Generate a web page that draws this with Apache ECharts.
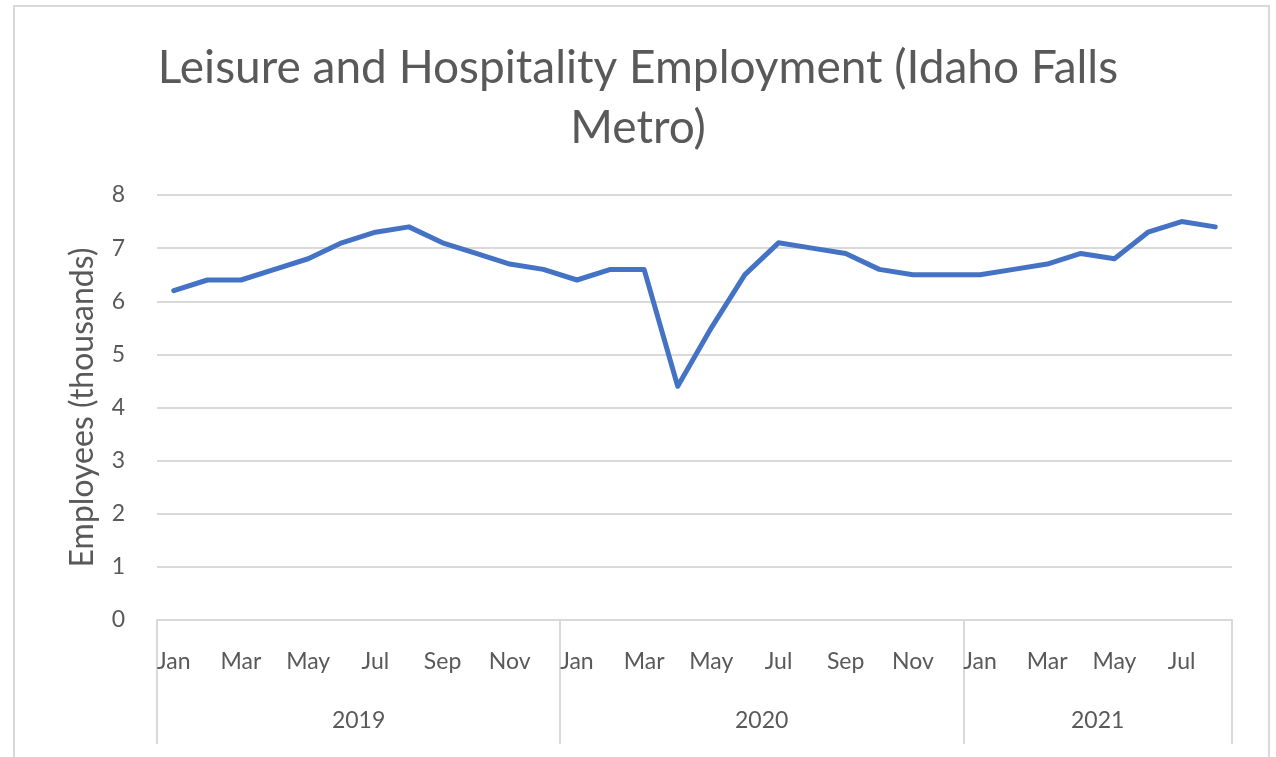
<!DOCTYPE html>
<html>
<head>
<meta charset="utf-8">
<title>Leisure and Hospitality Employment</title>
<script src="https://cdn.jsdelivr.net/npm/echarts@6/dist/echarts.min.js"></script>
<style>
  html, body { margin: 0; padding: 0; background: #fff; }
  #main { width: 1276px; height: 757px; }
</style>
</head>
<body>
<div id="main"></div>
<script>
  // 数据：2019年1月 ~ 2021年8月，单位：千人
  var years = ['2019', '2020', '2021']
  var monthsPerYear = [12, 12, 8]
  var monthNames = ['Jan', 'Feb', 'Mar', 'Apr', 'May', 'Jun', 'Jul', 'Aug', 'Sep', 'Oct', 'Nov', 'Dec']
  var employees2019 = [6.2, 6.4, 6.4, 6.6, 6.8, 7.1, 7.3, 7.4, 7.1, 6.9, 6.7, 6.6]
  var employees2020 = [6.4, 6.6, 6.6, 4.4, 5.5, 6.5, 7.1, 7.0, 6.9, 6.6, 6.5, 6.5]
  var employees2021 = [6.5, 6.6, 6.7, 6.9, 6.8, 7.3, 7.5, 7.4]
  var yTicks = [0, 1, 2, 3, 4, 5, 6, 7, 8]

  var categories = []
  var values = employees2019.concat(employees2020, employees2021)
  var boundaries = [0]      // 年份分隔线位置
  var yearCenters = []      // 年份标签位置
  var pos = 0
  for (var i = 0; i < years.length; i++) {
    for (var m = 0; m < monthsPerYear[i]; m++) categories.push(monthNames[m])
    yearCenters.push(pos + monthsPerYear[i] / 2)
    pos += monthsPerYear[i]
    boundaries.push(pos)
  }

  var textColor = '#595959'
  var lineGray = '#d9d9d9'
  var font = 'Lato, "Open Sans", sans-serif'

  var chart = echarts.init(document.getElementById('main'))
  chart.setOption({
    animation: false,
    backgroundColor: '#fff',
    textStyle: { fontFamily: font },
    title: {
      text: 'Leisure and Hospitality Employment (Idaho Falls\nMetro)',
      left: 'center',
      top: 33,
      textStyle: {
        color: textColor,
        fontSize: 46,
        fontWeight: 'normal',
        fontFamily: font,
        lineHeight: 60
      }
    },
    graphic: [{
      type: 'rect',
      shape: { x: 14, y: 6, width: 1255, height: 760 },
      style: { fill: 'none', stroke: lineGray, lineWidth: 2 },
      silent: true
    }],
    grid: {
      left: 157,
      right: 44,
      top: 195,
      bottom: 137
    },
    xAxis: [
      {
        type: 'category',
        data: categories,
        boundaryGap: true,
        axisLine: { show: true, lineStyle: { color: lineGray, width: 2 } },
        axisTick: { show: false },
        axisLabel: {
          interval: 1,
          color: textColor,
          fontSize: 23,
          margin: 30
        },
        splitLine: { show: false }
      },
      {
        // 年份层级（多级分类轴）
        type: 'value',
        min: 0,
        max: pos,
        position: 'bottom',
        axisLine: { show: false },
        axisTick: {
          show: true,
          length: 124,
          customValues: boundaries,
          lineStyle: { color: lineGray, width: 2 }
        },
        axisLabel: {
          color: textColor,
          fontSize: 23,
          margin: 89,
          customValues: yearCenters,
          formatter: function (v) {
            var idx = yearCenters.indexOf(v)
            return idx >= 0 ? years[idx] : ''
          }
        },
        splitLine: { show: false }
      }
    ],
    yAxis: {
      type: 'value',
      min: yTicks[0],
      max: yTicks[yTicks.length - 1],
      interval: 1,
      name: 'Employees (thousands)',
      nameLocation: 'middle',
      nameGap: 58,
      nameTextStyle: { color: textColor, fontSize: 32 },
      axisLine: { show: false },
      axisTick: { show: false },
      axisLabel: { color: textColor, fontSize: 23, margin: 32 },
      splitLine: { lineStyle: { color: lineGray, width: 2 } }
    },
    series: [{
      name: 'Employees',
      type: 'line',
      xAxisIndex: 0,
      data: values,
      symbol: 'none',
      lineStyle: { color: '#4472C4', width: 5, join: 'round', cap: 'round' },
      itemStyle: { color: '#4472C4' }
    }]
  })
</script>
</body>
</html>
